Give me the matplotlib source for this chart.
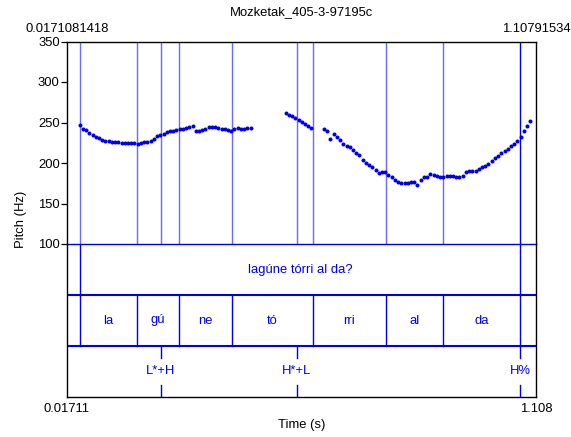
import matplotlib
matplotlib.use("Agg")
import matplotlib.pyplot as plt
import numpy as np

plt.rcParams['font.family'] = ['Liberation Sans', 'DejaVu Sans']

# ---------------- data ----------------
title = "Mozketak_405-3-97195c"
t_start = 0.0171081418
t_end = 1.10791534
pitch_min, pitch_max = 100, 350
pitch_ticks = [100, 150, 200, 250, 300, 350]
frame_step = 0.0075

seg1_t0 = 0.0466
seg1_hz = [247, 242, 241, 237, 234, 232.5, 230.5, 229, 227, 227, 226.5, 226,
           225.5, 225, 225, 225, 224.5, 224.5, 224, 225, 226, 226.5, 227.5,
           230, 233, 235, 236, 238.5, 240, 240, 240.5, 241.5, 242.5, 243.5,
           244.5, 245.5, 239.5, 239, 241, 242.5, 244, 244, 244, 243.5, 242.5,
           241.5, 240.5, 239, 241.5, 243, 242, 242.5, 243, 243]
seg2_t0 = 0.5257
seg2_hz = [261.5, 259.5, 257.5, 255, 253, 250.5, 248, 245.5, 243]
seg3_t0 = 0.6148
seg3_hz = [242, 240, 230, 236, 231.5, 229, 223, 221, 219.5, 216, 212, 209.5,
           204, 200, 197, 194.5, 191.5, 188, 188.5, 188.5, 185, 182.5, 179,
           177, 175, 175, 175.5, 176, 176.5, 172.5, 178.5, 182.5, 183, 186.5,
           185, 184, 183, 183, 183.5, 184, 183.5, 183, 183, 184, 189.5, 190,
           190, 190.5, 192.5, 195, 196.5, 199, 203, 206.5, 209, 212, 214.5,
           217.5, 221, 224, 227.5, 232.5, 239, 246, 252]

# tier 1 (sentence)
tier1_bounds = [0.0473, 1.0706]
tier1_labels = ["lagúne tórri al da?"]
# tier 2 (syllables)
tier2_bounds = [0.0473, 0.1799, 0.2776, 0.4008, 0.5892, 0.7590, 0.8915, 1.0706]
tier2_labels = ["la", "gú", "ne", "tó", "rri", "al", "da"]
# tier 3 (tones, points)
tier3_times = [0.2357, 0.5520, 1.0706]
tier3_labels = ["L*+H", "H*+L", "H%"]

# ---------------- figure ----------------
W, H = 571, 437
fig = plt.figure(figsize=(W / 100, H / 100), dpi=100)

left_px, right_px = 67, 536
top_px, mid_px, bot_px = 41.5, 244, 397

def fx(px):
    return px / W

def fy(py):
    return 1 - py / H

blue = '#0000e6'
line_blue = '#6a6aff'
fs = 9.4

ax1 = fig.add_axes([fx(left_px), fy(mid_px), fx(right_px - left_px), (mid_px - top_px) / H])
ax2 = fig.add_axes([fx(left_px), fy(bot_px), fx(right_px - left_px), (bot_px - mid_px) / H])

for ax in (ax1, ax2):
    ax.set_xlim(t_start, t_end)
    ax.set_facecolor('none')

ax1.set_ylim(pitch_min, pitch_max)
ax2.set_ylim(0, 3)

# pitch points
for t0, vals in ((seg1_t0, seg1_hz), (seg2_t0, seg2_hz), (seg3_t0, seg3_hz)):
    ts = t0 + frame_step * np.arange(len(vals))
    ax1.plot(ts, vals, 'o', color=blue, markersize=2.9, markeredgewidth=0, zorder=3)

# vertical boundary lines in pitch area
all_bounds = sorted(set(tier1_bounds + tier2_bounds + tier3_times))
for b in all_bounds:
    strong = abs(b - tier3_times[-1]) < 1e-6
    ax1.axvline(b, color=blue if strong else line_blue, lw=1.0, zorder=2)

# tier separators
ax2.axhline(2, color=blue, lw=1.5)
ax2.axhline(1, color=blue, lw=1.5)

# tier 1
for b in tier1_bounds:
    ax2.plot([b, b], [2, 3], color=blue, lw=1.0)
for i, lab in enumerate(tier1_labels):
    ax2.text((tier1_bounds[i] + tier1_bounds[i + 1]) / 2, 2.5, lab, color=blue,
             ha='center', va='center', fontsize=fs)

# tier 2
for b in tier2_bounds:
    ax2.plot([b, b], [1, 2], color=blue, lw=1.0)
for i, lab in enumerate(tier2_labels):
    ax2.text((tier2_bounds[i] + tier2_bounds[i + 1]) / 2, 1.5, lab, color=blue,
             ha='center', va='center', fontsize=fs)

# tier 3 points
for t, lab in zip(tier3_times, tier3_labels):
    ax2.plot([t, t], [1, 0.77], color=blue, lw=1.0)
    ax2.plot([t, t], [0, 0.23], color=blue, lw=1.0)
    ax2.text(t, 0.5, lab, color=blue, ha='center', va='center', fontsize=fs)

# spines
for s in ('left', 'right', 'top'):
    ax1.spines[s].set_color('black')
    ax1.spines[s].set_linewidth(1.0)
ax1.spines['bottom'].set_color(blue)
ax1.spines['bottom'].set_linewidth(1.0)
for s in ('left', 'right', 'bottom'):
    ax2.spines[s].set_color('black')
    ax2.spines[s].set_linewidth(1.0)
ax2.spines['top'].set_visible(False)

ax1.set_yticks(pitch_ticks)
ax1.set_yticklabels([str(v) for v in pitch_ticks], fontsize=fs)
ax1.tick_params(axis='y', direction='out', length=4.5, width=0.9, pad=0.8, colors='black')
ax1.set_xticks([])
ax2.set_xticks([])
ax2.set_yticks([])

# texts outside
fig.text(fx((left_px + right_px) / 2), fy(12), title, ha='center', va='center', fontsize=fs)
fig.text(fx(left_px), fy(29), "0.0171081418", ha='center', va='center', fontsize=fs)
fig.text(fx(right_px), fy(29), "1.10791534", ha='center', va='center', fontsize=fs)
fig.text(fx(left_px), fy(409), "0.01711", ha='center', va='center', fontsize=fs)
fig.text(fx(right_px), fy(409), "1.108", ha='center', va='center', fontsize=fs)
fig.text(fx((left_px + right_px) / 2), fy(425), "Time (s)", ha='center', va='center', fontsize=fs)
fig.text(fx(21), fy((top_px + bot_px) / 2), "Pitch (Hz)", ha='center', va='center',
         rotation=90, fontsize=fs)

fig.savefig("out.png", dpi=100)
